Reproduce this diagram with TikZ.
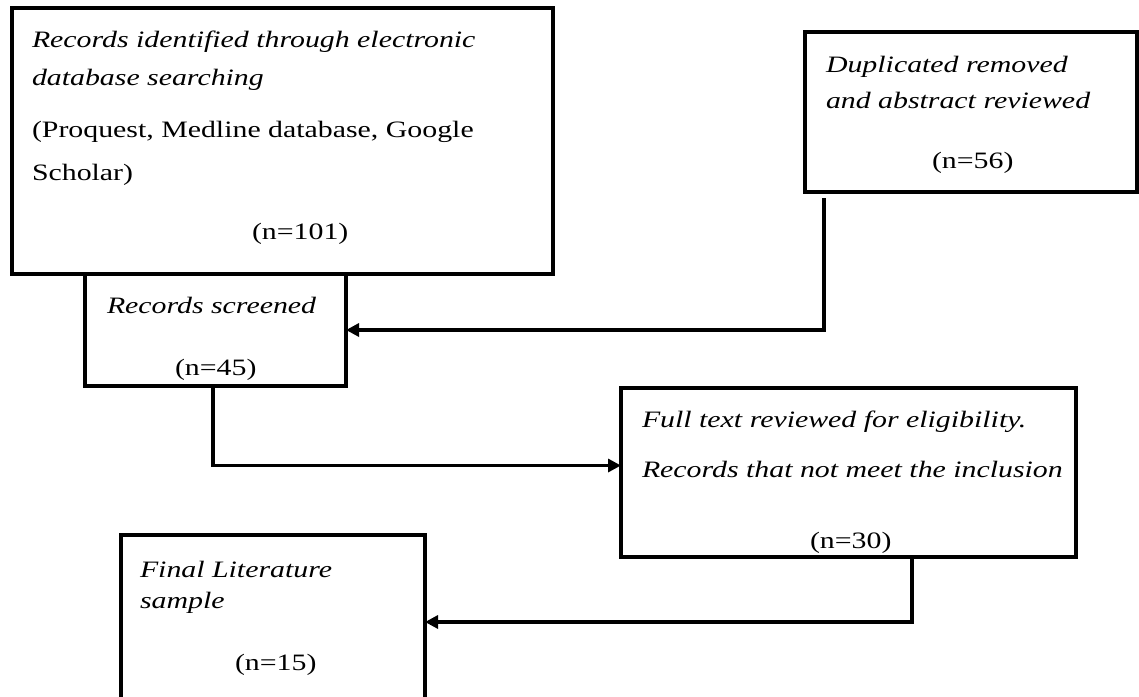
\documentclass[tikz,border=0pt]{standalone}
\usepackage{fontspec}
\setmainfont{Liberation Serif}[FakeStretch=1.27]
\usetikzlibrary{arrows.meta,calc}
\tikzset{
  box/.style={draw=black, line width=3.2pt, rectangle, inner sep=0pt, outer sep=0pt, anchor=north west},
  txt/.style={anchor=base west, inner sep=0pt, outer sep=0pt, font=\fontsize{23.5}{28}\selectfont},
  itxt/.style={txt, font=\fontsize{23.5}{28}\selectfont\itshape},
  conn/.style={draw=black, line width=3.2pt, -{Triangle[length=13pt,width=13pt]}}
}
\begin{document}
\begin{tikzpicture}[x=1pt,y=-1pt]
\useasboundingbox (0,0) rectangle (1139,696);
\clip (0,0) rectangle (1139,696);
% boxes
\node[box, minimum width=541pt, minimum height=266pt] (b1) at (12,8) {};
\node[box, minimum width=332pt, minimum height=160pt] (b2) at (805,32) {};
\node[box, minimum width=261pt, minimum height=112pt] (b3) at (85,274) {};
\node[box, minimum width=455pt, minimum height=169pt] (b4) at (621,388) {};
\node[box, minimum width=304pt, minimum height=174pt] (b5) at (121,535) {};
% texts box 1
\node[itxt] (t1a) at (32,47) {Records identified through electronic};
\node[itxt] (t1b) at (32,85) {database searching};
\node[txt] (t1c) at (32,137) {(Proquest, Medline database, Google};
\node[txt] (t1d) at (32,180) {Scholar)};
\node[txt] (t1e) at (252,239) {(n=101)};
% box 2
\node[itxt] (t2a) at (826,72) {Duplicated removed};
\node[itxt] (t2b) at (826,108) {and abstract reviewed};
\node[txt] (t2c) at (932,168) {(n=56)};
% box 3
\node[itxt] (t3a) at (107,313) {Records screened};
\node[txt] (t3b) at (175,375) {(n=45)};
% box 4
\node[itxt] (t4a) at (642,427) {Full text reviewed for eligibility.};
\node[itxt] (t4b) at (642,477) {Records that not meet the inclusion};
\node[txt] (t4c) at (810,548) {(n=30)};
% box 5
\node[itxt] (t5a) at (140,577) {Final Literature};
\node[itxt] (t5b) at (140,608) {sample};
\node[txt] (t5c) at (235,670) {(n=15)};
% connectors
\coordinate (c2) at ($(b2.south west)+(19,6)$);
\draw[conn] (c2) |- (b3.east);
\coordinate (c3) at ($(b3.south west)+(128,0)$);
\draw[conn] (c3) |- ($(b4.west)+(0,-7)$);
\coordinate (c4) at ($(b4.south west)+(291,0)$);
\draw[conn] (c4) |- (b5.east);
\end{tikzpicture}
\end{document}
